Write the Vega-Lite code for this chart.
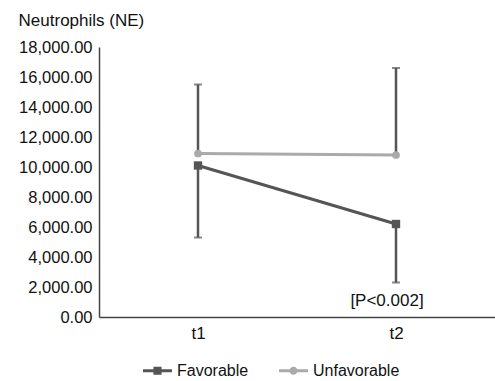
{
  "$schema": "https://vega.github.io/schema/vega-lite/v6.json",
  "autosize": {"type": "none"},
  "padding": {"left": 99, "top": 47, "right": 0, "bottom": 64},
  "width": 396,
  "height": 270,
  "title": {"text": "Neutrophils (NE)", "anchor": "start", "frame": "bounds", "font": "Liberation Sans", "fontSize": 17, "fontWeight": "normal", "color": "#111", "offset": 9},
  "config": {
    "view": {"stroke": null},
    "font": "Liberation Sans",
    "axisY": {"format": ",.2f", "values": [0, 2000, 4000, 6000, 8000, 10000, 12000, 14000, 16000, 18000], "grid": false, "ticks": false, "labelPadding": 7, "labelFontSize": 16.5, "labelColor": "#111", "domainColor": "#444", "domainWidth": 1.5}
  },
  "datasets": {
    "means": [
      {"time": "t1", "series": "Favorable", "mean": 10100},
      {"time": "t2", "series": "Favorable", "mean": 6200},
      {"time": "t1", "series": "Unfavorable", "mean": 10900},
      {"time": "t2", "series": "Unfavorable", "mean": 10800}
    ],
    "errs": [
      {"time": "t1", "series": "Favorable", "mean": 10100, "end": 5300},
      {"time": "t2", "series": "Favorable", "mean": 6200, "end": 2300},
      {"time": "t1", "series": "Unfavorable", "mean": 10900, "end": 15500},
      {"time": "t2", "series": "Unfavorable", "mean": 10800, "end": 16600}
    ],
    "notes": [
      {"time": "t2", "value": 1100, "label": "[P<0.002]"}
    ]
  },
  "encoding": {
    "x": {"field": "time", "type": "ordinal", "scale": {"type": "point", "padding": 0.5},
      "axis": {"title": null, "labelAngle": 0, "ticks": false, "labelPadding": 8, "labelFontSize": 17, "labelColor": "#111", "domainColor": "#444", "domainWidth": 1.5}}
  },
  "layer": [
    {
      "data": {"name": "errs"},
      "mark": {"type": "rule", "color": "#555", "strokeWidth": 2.5},
      "encoding": {
        "y": {"field": "mean", "type": "quantitative", "scale": {"domain": [0, 18000], "nice": false}, "axis": {"title": null}},
        "y2": {"field": "end"}
      }
    },
    {
      "data": {"name": "errs"},
      "mark": {"type": "tick", "color": "#555", "size": 8, "thickness": 2},
      "encoding": {
        "y": {"field": "end", "type": "quantitative", "axis": {"title": null}}
      }
    },
    {
      "data": {"name": "means"},
      "mark": {"type": "line", "strokeWidth": 3},
      "encoding": {
        "y": {"field": "mean", "type": "quantitative", "axis": {"title": null}},
        "color": {"field": "series", "type": "nominal",
          "scale": {"domain": ["Favorable", "Unfavorable"], "range": ["#555555", "#aaaaaa"]},
          "legend": {
            "title": null, "orient": "none", "legendX": 44, "legendY": 309, "direction": "horizontal",
            "symbolSize": 841, "labelFontSize": 16, "labelColor": "#111", "labelOffset": 5, "columnPadding": 30,
            "symbolStrokeWidth": 0,
            "encode": {"symbols": {"update": {
              "shape": {"signal": "datum.value === 'Favorable' ? 'M-1,-0.1L1,-0.1L1,0.1L-1,0.1Z M-0.28,-0.28L0.28,-0.28L0.28,0.28L-0.28,0.28Z' : 'M-1,-0.1L1,-0.1L1,0.1L-1,0.1Z M-0.28,0A0.28,0.28 0 1,1 0.28,0A0.28,0.28 0 1,1 -0.28,0Z'"},
              "fill": {"signal": "datum.value === 'Favorable' ? '#555555' : '#aaaaaa'"},
              "strokeWidth": {"value": 0},
              "opacity": {"value": 1}
            }}}
          }}
      }
    },
    {
      "data": {"name": "means"},
      "transform": [{"filter": "datum.series === 'Unfavorable'"}],
      "mark": {"type": "point", "filled": true, "opacity": 1, "shape": "circle", "size": 60, "color": "#aaaaaa"},
      "encoding": {
        "y": {"field": "mean", "type": "quantitative", "axis": {"title": null}}
      }
    },
    {
      "data": {"name": "means"},
      "transform": [{"filter": "datum.series === 'Favorable'"}],
      "mark": {"type": "point", "filled": true, "opacity": 1, "shape": "square", "size": 70, "color": "#555555"},
      "encoding": {
        "y": {"field": "mean", "type": "quantitative", "axis": {"title": null}}
      }
    },
    {
      "data": {"name": "notes"},
      "mark": {"type": "text", "fontSize": 17, "color": "#111", "dx": -9, "baseline": "middle"},
      "encoding": {
        "y": {"field": "value", "type": "quantitative", "axis": {"title": null}},
        "text": {"field": "label"}
      }
    }
  ]
}
